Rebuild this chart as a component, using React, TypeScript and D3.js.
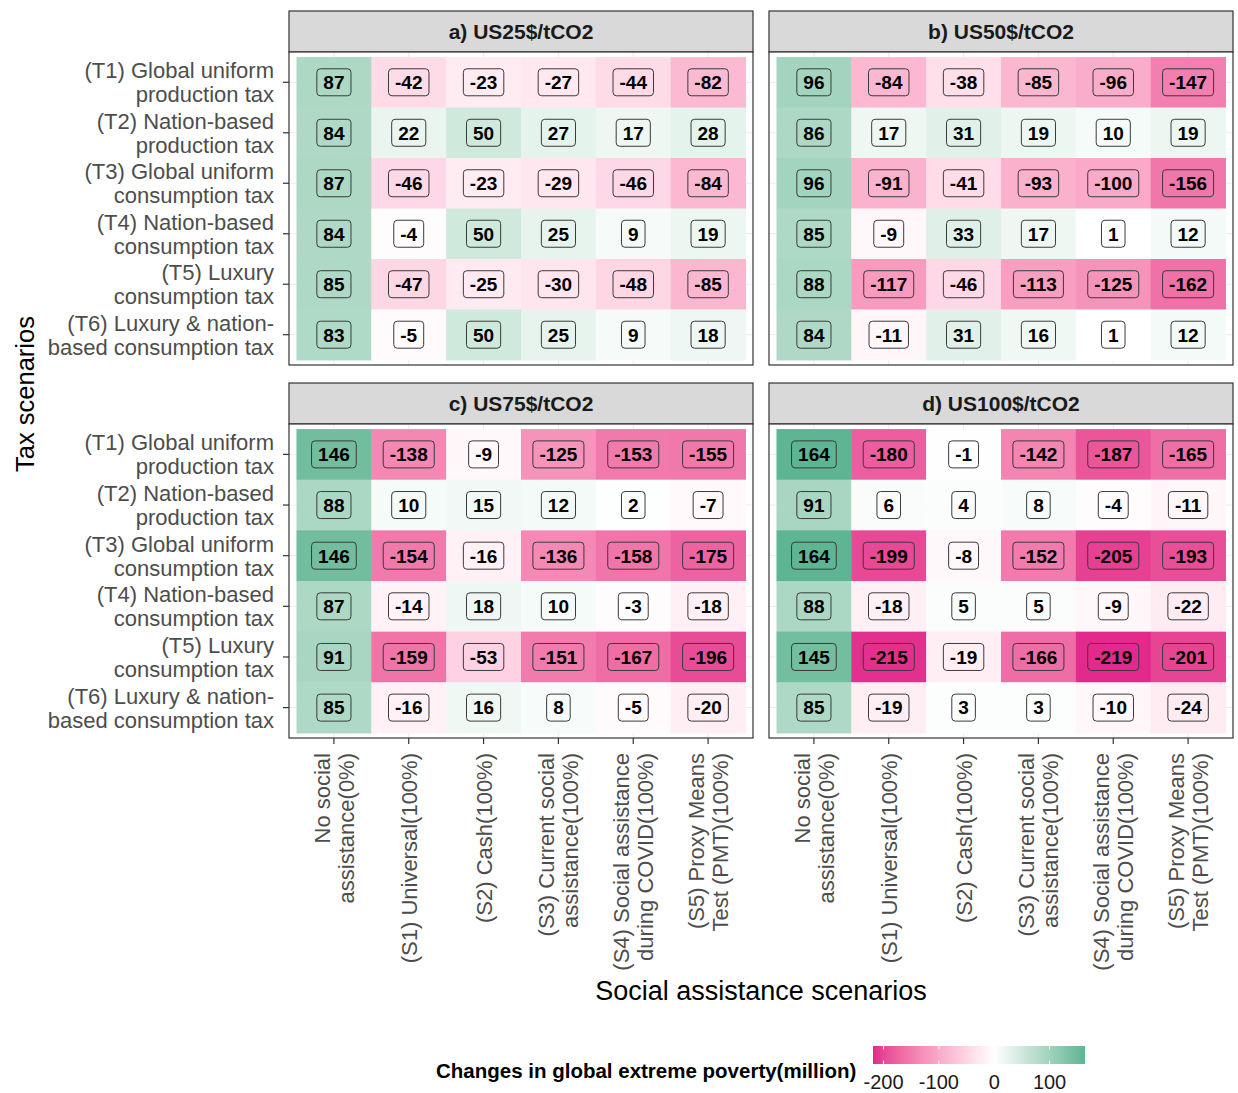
import React from "react";
import * as d3 from "d3";

// Categories
const socialScenarios = ["S0", "S1", "S2", "S3", "S4", "S5"];
const socialLabels = [
  ["No social", "assistance(0%)"],
  ["(S1) Universal(100%)"],
  ["(S2) Cash(100%)"],
  ["(S3) Current social", "assistance(100%)"],
  ["(S4) Social assistance", "during COVID(100%)"],
  ["(S5) Proxy Means", "Test (PMT)(100%)"],
];
const taxScenarios = ["T1", "T2", "T3", "T4", "T5", "T6"];
const taxLabels = [
  ["(T1) Global uniform", "production tax"],
  ["(T2) Nation-based", "production tax"],
  ["(T3) Global uniform", "consumption tax"],
  ["(T4) Nation-based", "consumption tax"],
  ["(T5) Luxury", "consumption tax"],
  ["(T6) Luxury & nation-", "based consumption tax"],
];
const panelTitles = ["a) US25$/tCO2", "b) US50$/tCO2", "c) US75$/tCO2", "d) US100$/tCO2"];

// Changes in global extreme poverty (million); rows = tax scenarios, columns = social scenarios
const us25 = [
  [87, -42, -23, -27, -44, -82],
  [84, 22, 50, 27, 17, 28],
  [87, -46, -23, -29, -46, -84],
  [84, -4, 50, 25, 9, 19],
  [85, -47, -25, -30, -48, -85],
  [83, -5, 50, 25, 9, 18],
];
const us50 = [
  [96, -84, -38, -85, -96, -147],
  [86, 17, 31, 19, 10, 19],
  [96, -91, -41, -93, -100, -156],
  [85, -9, 33, 17, 1, 12],
  [88, -117, -46, -113, -125, -162],
  [84, -11, 31, 16, 1, 12],
];
const us75 = [
  [146, -138, -9, -125, -153, -155],
  [88, 10, 15, 12, 2, -7],
  [146, -154, -16, -136, -158, -175],
  [87, -14, 18, 10, -3, -18],
  [91, -159, -53, -151, -167, -196],
  [85, -16, 16, 8, -5, -20],
];
const us100 = [
  [164, -180, -1, -142, -187, -165],
  [91, 6, 4, 8, -4, -11],
  [164, -199, -8, -152, -205, -193],
  [88, -18, 5, 5, -9, -22],
  [145, -215, -19, -166, -219, -201],
  [85, -19, 3, 3, -10, -24],
];
const panelValues = [us25, us50, us75, us100];
const legendTicks = [-200, -100, 0, 100];

const FONT = "'Liberation Sans', Arial, Helvetica, sans-serif";
const W = 1238;
const H = 1093;

// Facet layout
const colX = [
  [289, 753],
  [769, 1233],
];
const rowY = [
  { strip: 11, top: 52, bottom: 365 },
  { strip: 383, top: 424, bottom: 738 },
];

const allValues = panelValues.flat(2);
const vMin = d3.min(allValues) as number;
const vMax = d3.max(allValues) as number;
const color = d3
  .scaleLinear<string>()
  .domain([vMin, 0, vMax])
  .range(["#e3298b", "#ffffff", "#5db593"])
  .interpolate(d3.interpolateLab);

const canvasCtx = typeof document !== "undefined" ? document.createElement("canvas").getContext("2d") : null;
function textWidth(s: string, font: string) {
  if (!canvasCtx) return s.length * 10;
  canvasCtx.font = font;
  return canvasCtx.measureText(s).width;
}

const LABEL_FONT_SIZE = 19;
const labelFont = `bold ${LABEL_FONT_SIZE}px ${FONT}`;
const TICK_FONT_SIZE = 22;

function Panel({ idx }: { idx: number }) {
  const c = idx % 2;
  const r = Math.floor(idx / 2);
  const [L, R] = colX[c];
  const { strip, top, bottom } = rowY[r];
  const values = panelValues[idx];

  // discrete scales with ggplot's default 0.6 expansion
  const xLin = d3.scaleLinear().domain([0.4, 6.6]).range([L, R]);
  const yLin = d3.scaleLinear().domain([0.4, 6.6]).range([top, bottom]);
  const x = d3.scaleBand().domain(socialScenarios).range([xLin(0.5), xLin(6.5)]);
  const y = d3.scaleBand().domain(taxScenarios).range([yLin(0.5), yLin(6.5)]);
  const xc = (k: string) => (x(k) as number) + x.bandwidth() / 2;
  const yc = (k: string) => (y(k) as number) + y.bandwidth() / 2;

  const showY = c === 0;
  const showX = r === 1;

  return (
    <g>
      {/* strip */}
      <rect x={L} y={strip} width={R - L} height={top - strip} fill="#d9d9d9" stroke="#333333" strokeWidth={1.2} />
      <text
        x={(L + R) / 2}
        y={(strip + top) / 2}
        dy="0.36em"
        textAnchor="middle"
        fontFamily={FONT}
        fontWeight="bold"
        fontSize={21}
        fill="#1a1a1a"
      >
        {panelTitles[idx]}
      </text>
      {/* panel background and grid */}
      <rect x={L} y={top} width={R - L} height={bottom - top} fill="#ffffff" />
      {socialScenarios.map((s) => (
        <line key={"gx" + s} x1={xc(s)} x2={xc(s)} y1={top} y2={bottom} stroke="#ebebeb" strokeWidth={1} />
      ))}
      {taxScenarios.map((t) => (
        <line key={"gy" + t} x1={L} x2={R} y1={yc(t)} y2={yc(t)} stroke="#ebebeb" strokeWidth={1} />
      ))}
      {/* tiles */}
      {taxScenarios.map((t, i) =>
        socialScenarios.map((s, j) => (
          <rect
            key={`t${t}${s}`}
            x={x(s)}
            y={y(t)}
            width={x.bandwidth() + 0.5}
            height={y.bandwidth() + 0.5}
            fill={color(values[i][j])}
          />
        ))
      )}
      {/* value labels */}
      {taxScenarios.map((t, i) =>
        socialScenarios.map((s, j) => {
          const v = values[i][j];
          const str = String(v);
          const w = textWidth(str, labelFont) + 13;
          const h = 27;
          return (
            <g key={`l${t}${s}`} transform={`translate(${xc(s)},${yc(t)})`}>
              <rect x={-w / 2} y={-h / 2} width={w} height={h} rx={3.5} fill={color(v)} stroke="#3a3a3a" strokeWidth={1} />
              <text
                textAnchor="middle"
                dy="0.36em"
                fontFamily={FONT}
                fontWeight="bold"
                fontSize={LABEL_FONT_SIZE}
                fill="#000000"
              >
                {str}
              </text>
            </g>
          );
        })
      )}
      {/* panel border */}
      <rect x={L} y={top} width={R - L} height={bottom - top} fill="none" stroke="#333333" strokeWidth={1.2} />
      {/* y axis */}
      {showY &&
        taxScenarios.map((t, i) => (
          <g key={"ya" + t}>
            <line x1={L - 6} x2={L} y1={yc(t)} y2={yc(t)} stroke="#333333" strokeWidth={1.2} />
            <text textAnchor="end" fontFamily={FONT} fontSize={TICK_FONT_SIZE} fill="#4d4d4d">
              {taxLabels[i].map((ln, k) => (
                <tspan key={k} x={L - 15} y={yc(t) + (k - (taxLabels[i].length - 1) / 2) * 24} dy="0.36em">
                  {ln}
                </tspan>
              ))}
            </text>
          </g>
        ))}
      {/* x axis */}
      {showX &&
        socialScenarios.map((s, j) => (
          <g key={"xa" + s}>
            <line x1={xc(s)} x2={xc(s)} y1={bottom} y2={bottom + 6} stroke="#333333" strokeWidth={1.2} />
            {socialLabels[j].map((ln, k) => {
              const off = (k - (socialLabels[j].length - 1) / 2) * 24;
              return (
                <text
                  key={k}
                  transform={`translate(${xc(s) + off},${bottom + 15}) rotate(-90)`}
                  textAnchor="end"
                  dy="0.36em"
                  fontFamily={FONT}
                  fontSize={TICK_FONT_SIZE}
                  fill="#4d4d4d"
                >
                  {ln}
                </text>
              );
            })}
          </g>
        ))}
    </g>
  );
}

function Legend() {
  const lx = d3.scaleLinear().domain([vMin, vMax]).range([873, 1085]);
  const y0 = 1046;
  const bh = 18;
  const stops = d3.range(0, 1.0001, 0.02).map((p) => ({ p, c: color(vMin + p * (vMax - vMin)) }));
  return (
    <g>
      <defs>
        <linearGradient id="legendGrad" x1="0" x2="1" y1="0" y2="0">
          {stops.map((s, i) => (
            <stop key={i} offset={`${s.p * 100}%`} stopColor={s.c} />
          ))}
        </linearGradient>
      </defs>
      <text x={436} y={1078} fontFamily={FONT} fontWeight="bold" fontSize={20.5} fill="#000000">
        Changes in global extreme poverty(million)
      </text>
      <rect x={lx(vMin)} y={y0} width={lx(vMax) - lx(vMin)} height={bh} fill="url(#legendGrad)" />
      {legendTicks.map((t) => (
        <g key={t}>
          <line x1={lx(t)} x2={lx(t)} y1={y0} y2={y0 + 3.5} stroke="#ffffff" strokeWidth={1} />
          <line x1={lx(t)} x2={lx(t)} y1={y0 + bh - 3.5} y2={y0 + bh} stroke="#ffffff" strokeWidth={1} />
          <text x={lx(t)} y={1089} textAnchor="middle" fontFamily={FONT} fontSize={20} fill="#1a1a1a">
            {t}
          </text>
        </g>
      ))}
    </g>
  );
}

export default function App() {
  return (
    <svg
      width={W}
      height={H}
      viewBox={`0 0 ${W} ${H}`}
      style={{ position: "absolute", left: 0, top: 0, background: "#ffffff" }}
    >
      <rect x={0} y={0} width={W} height={H} fill="#ffffff" />
      {panelTitles.map((_, i) => (
        <Panel key={i} idx={i} />
      ))}
      <text
        transform="translate(34,394) rotate(-90)"
        textAnchor="middle"
        fontFamily={FONT}
        fontSize={25.5}
        fill="#000000"
      >
        Tax scenarios
      </text>
      <text x={761} y={1000} textAnchor="middle" fontFamily={FONT} fontSize={27} fill="#000000">
        Social assistance scenarios
      </text>
      <Legend />
    </svg>
  );
}
